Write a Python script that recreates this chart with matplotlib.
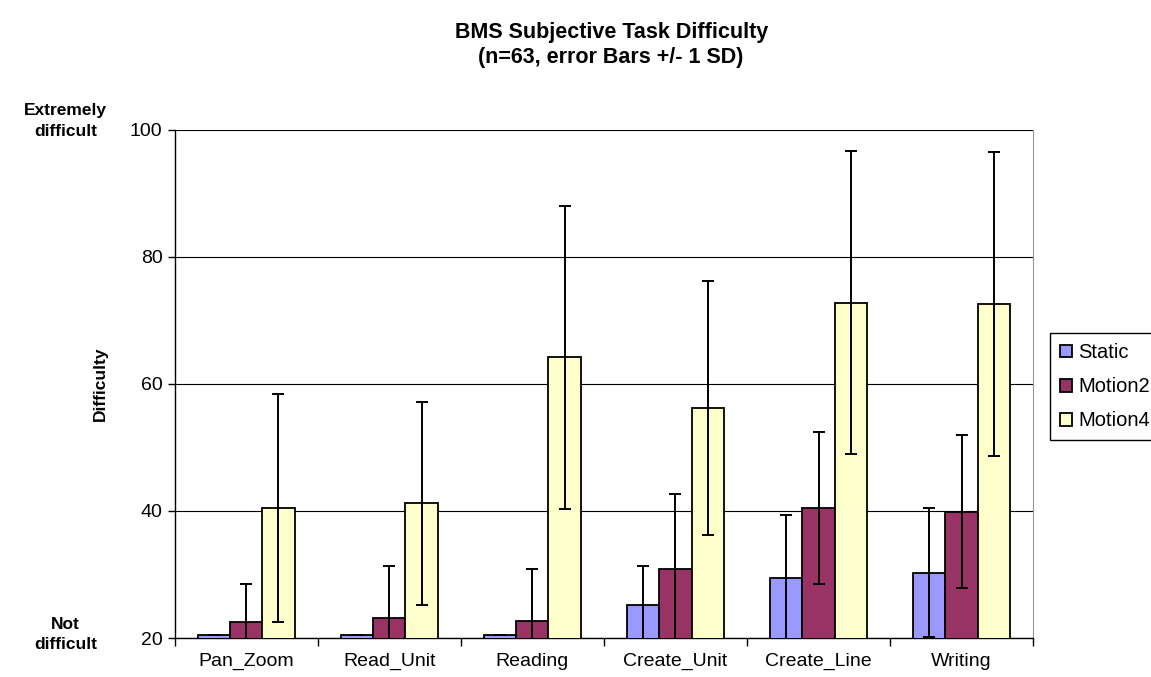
import numpy as np
import matplotlib
matplotlib.use('Agg')
from matplotlib import pyplot as plt

plt.rcParams['font.family'] = ['Liberation Sans', 'DejaVu Sans']

tasks = ['Pan_Zoom', 'Read_Unit', 'Reading', 'Create_Unit', 'Create_Line', 'Writing']
series = ['Static', 'Motion2', 'Motion4']
static_mean = [20.5, 20.5, 20.5, 25.2, 29.5, 30.3]
static_sd = [0.0, 0.0, 0.0, 6.1, 9.9, 10.1]
motion2_mean = [22.5, 23.2, 22.7, 30.8, 40.5, 39.9]
motion2_sd = [6.0, 8.2, 8.2, 11.9, 12.0, 12.0]
motion4_mean = [40.5, 41.2, 64.2, 56.2, 72.8, 72.6]
motion4_sd = [18.0, 16.0, 23.9, 20.0, 23.9, 24.0]
colors = ['#9999FF', '#993366', '#FFFFCC']

fig = plt.figure(figsize=(11.51, 6.77), dpi=100)
ax = fig.add_axes([0.152, 0.0576, 0.7455, 0.7504])

x = np.arange(len(tasks))
w = 0.224
means = [static_mean, motion2_mean, motion4_mean]
sds = [static_sd, motion2_sd, motion4_sd]
for i in range(3):
    ax.bar(x + (i - 1) * w, means[i], w, color=colors[i], edgecolor='black',
           linewidth=1.3, label=series[i], zorder=3)
    ax.errorbar(x + (i - 1) * w, means[i], yerr=sds[i], fmt='none', ecolor='black',
                elinewidth=1.4, capsize=4.5, capthick=1.4, zorder=4)

ax.set_ylim(20, 100)
ax.set_xlim(-0.5, len(tasks) - 0.5)
ax.set_yticks([20, 40, 60, 80, 100])
ax.grid(axis='y', color='black', linewidth=0.8, zorder=0)
ax.set_axisbelow(True)

ax.set_xticks(np.arange(len(tasks) + 1) - 0.5)
ax.set_xticklabels([])
ax.set_xticks(x, minor=True)
ax.set_xticklabels(tasks, minor=True)
ax.tick_params(axis='x', which='major', length=6, direction='out', width=1)
ax.tick_params(axis='x', which='minor', length=0, pad=11, labelsize=14)
ax.tick_params(axis='y', length=5, direction='out', labelsize=14, width=1, pad=4)

ax.spines['top'].set_visible(False)
ax.spines['right'].set_color('#999999')
ax.spines['left'].set_linewidth(1)
ax.spines['bottom'].set_linewidth(1)

ax.set_ylabel('Difficulty', fontsize=12.5, fontweight='bold', labelpad=16)
fig.text(0.057, 0.821, 'Extremely\ndifficult', ha='center', va='center',
         fontsize=12.5, fontweight='bold', linespacing=1.45)
fig.text(0.057, 0.063, 'Not\ndifficult', ha='center', va='center',
         fontsize=12.5, fontweight='bold', linespacing=1.45)

fig.suptitle('BMS Subjective Task Difficulty\n(n=63, error Bars +/- 1 SD)',
             x=0.531, y=0.968, fontsize=15.5, fontweight='bold', linespacing=1.3)

leg = fig.legend(loc='upper left', bbox_to_anchor=(0.912, 0.508), fontsize=14.5,
                 frameon=True, fancybox=False, edgecolor='black', framealpha=1,
                 handlelength=0.6, handleheight=0.6, handletextpad=0.3,
                 borderaxespad=0, borderpad=0.5, labelspacing=0.75)
leg.get_frame().set_linewidth(1)

plt.savefig('out.png', dpi=100)
